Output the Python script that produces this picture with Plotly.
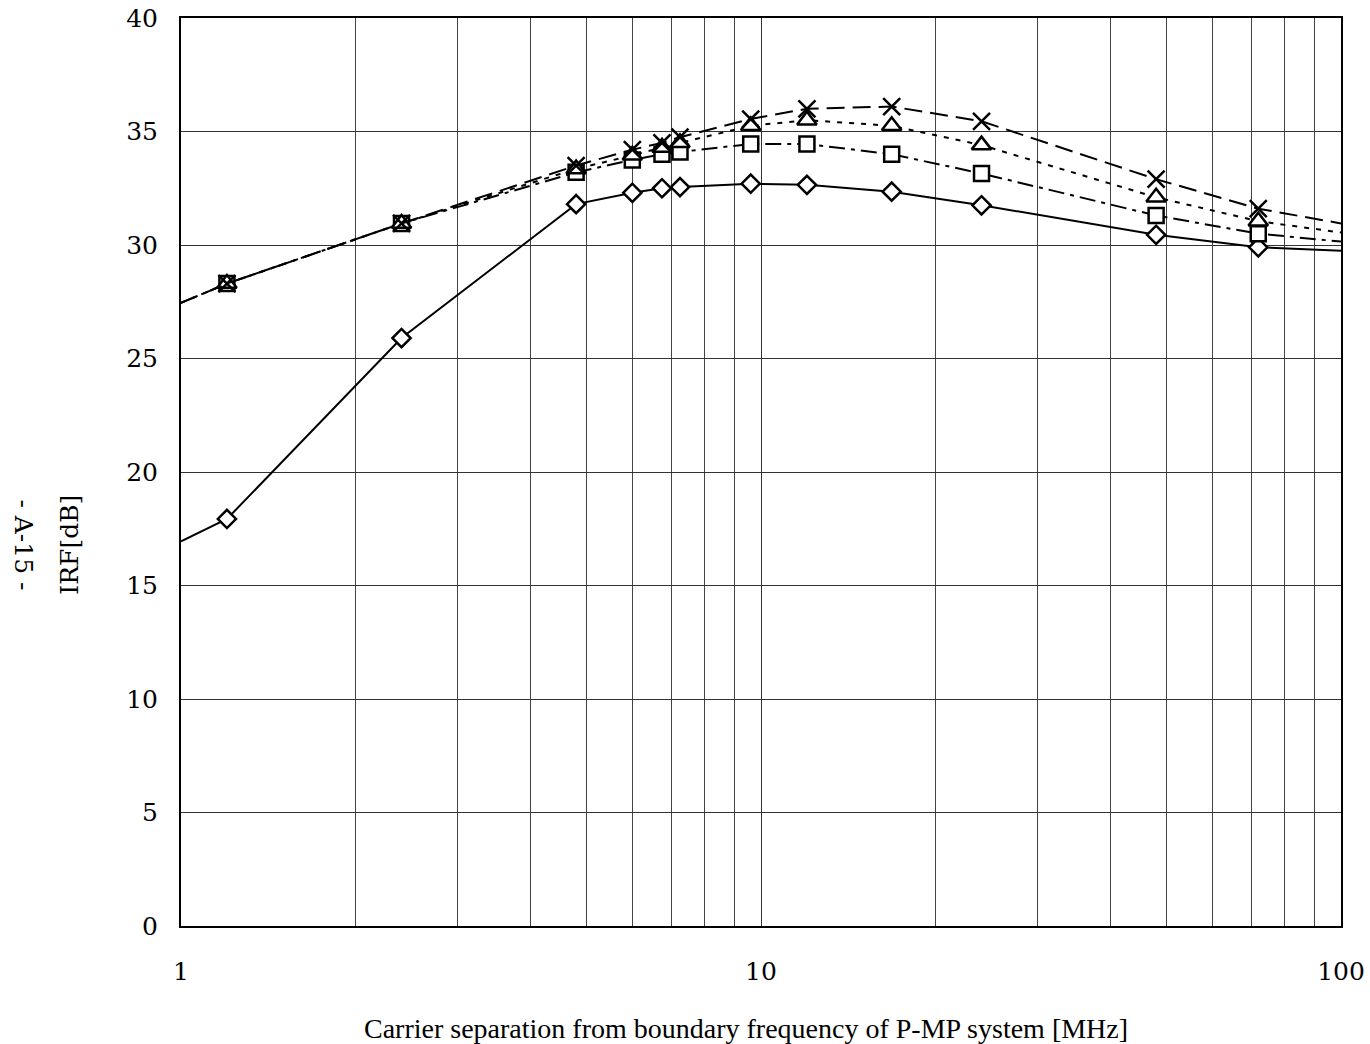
import plotly.graph_objects as go

# data
x_pts = [1, 1.2, 2.4, 4.8, 6, 6.75, 7.25, 9.6, 12, 16.8, 24, 48, 72, 100]
diamond_y = [16.95, 17.93, 25.9, 31.8, 32.3, 32.5, 32.55, 32.7, 32.65, 32.35, 31.75, 30.45, 29.9, 29.75]
square_y = [27.45, 28.3, 30.95, 33.2, 33.75, 34.0, 34.1, 34.45, 34.45, 34.0, 33.15, 31.3, 30.5, 30.15]
triangle_y = [27.45, 28.3, 30.95, 33.35, 33.95, 34.3, 34.5, 35.25, 35.5, 35.25, 34.4, 32.1, 31.05, 30.55]
cross_y = [27.45, 28.3, 30.95, 33.5, 34.2, 34.5, 34.75, 35.55, 36.0, 36.1, 35.45, 32.9, 31.6, 30.95]
x_ticks = [1, 10, 100]
y_ticks = [0, 5, 10, 15, 20, 25, 30, 35, 40]
minor_x = [2, 3, 4, 5, 6, 7, 8, 9, 20, 30, 40, 50, 60, 70, 80, 90]

n = len(x_pts)
def msizes(s):
    return [0] + [s] * (n - 2) + [0]

fig = go.Figure()
series = [
    (diamond_y, "diamond", "solid", 14, 2.5),
    (square_y, "square", "16px,6px,4px,6px", 15, 2.5),
    (triangle_y, "triangle-up", "5px,7px", 17, 2.5),
    (cross_y, "x-thin", "18px,8px", 17, 2.5),
]
for ys, sym, dash, ms, mw in series:
    fig.add_trace(go.Scatter(
        x=x_pts, y=ys, mode="lines+markers",
        line=dict(color="black", width=2, dash=dash),
        marker=dict(symbol=sym, size=msizes(ms), color="white", opacity=1,
                    line=dict(color="black", width=mw)),
        showlegend=False, cliponaxis=False,
    ))

font_serif = "DejaVu Serif, Century Schoolbook, Liberation Serif, serif"
fig.update_layout(
    width=1370, height=1044,
    margin=dict(l=181, r=29, t=18, b=118, autoexpand=False),
    paper_bgcolor="white", plot_bgcolor="white",
    font=dict(family=font_serif, color="black", size=25),
    xaxis=dict(
        type="log", range=[0, 2], tickvals=x_ticks, ticktext=[str(v) for v in x_ticks],
        ticks="", showgrid=True, gridcolor="#333", gridwidth=1, automargin=False,
        minor=dict(tickvals=minor_x, showgrid=True, gridcolor="#444", gridwidth=1, ticks=""),
        showline=True, linecolor="black", linewidth=2, mirror=True,
        zeroline=False, ticklabelstandoff=22,
        tickfont=dict(size=25, family=font_serif),
    ),
    yaxis=dict(
        range=[0, 40], tickvals=y_ticks, ticks="", showgrid=True, gridcolor="#333", gridwidth=1,
        showline=True, linecolor="black", linewidth=2, mirror=True, zeroline=False,
        automargin=False, ticklabelstandoff=16, tickfont=dict(size=25, family=font_serif),
    ),
    annotations=[
        dict(text="- A-15 -", xref="paper", yref="paper", x=-0.136, y=0.42,
             xanchor="center", yanchor="middle", showarrow=False, textangle=90,
             font=dict(family=font_serif, size=25)),
        dict(text="IRF[dB]", xref="paper", yref="paper", x=-0.0957, y=0.42,
             xanchor="center", yanchor="middle", showarrow=False, textangle=-90,
             font=dict(family=font_serif, size=25)),
        dict(text="Carrier separation from boundary frequency of P-MP system [MHz]",
             xref="paper", yref="paper", x=0.487, y=-0.113,
             xanchor="center", yanchor="middle", showarrow=False,
             font=dict(family="Liberation Serif, Times New Roman, serif", size=28)),
    ],
)
fig.write_html("out.html")
